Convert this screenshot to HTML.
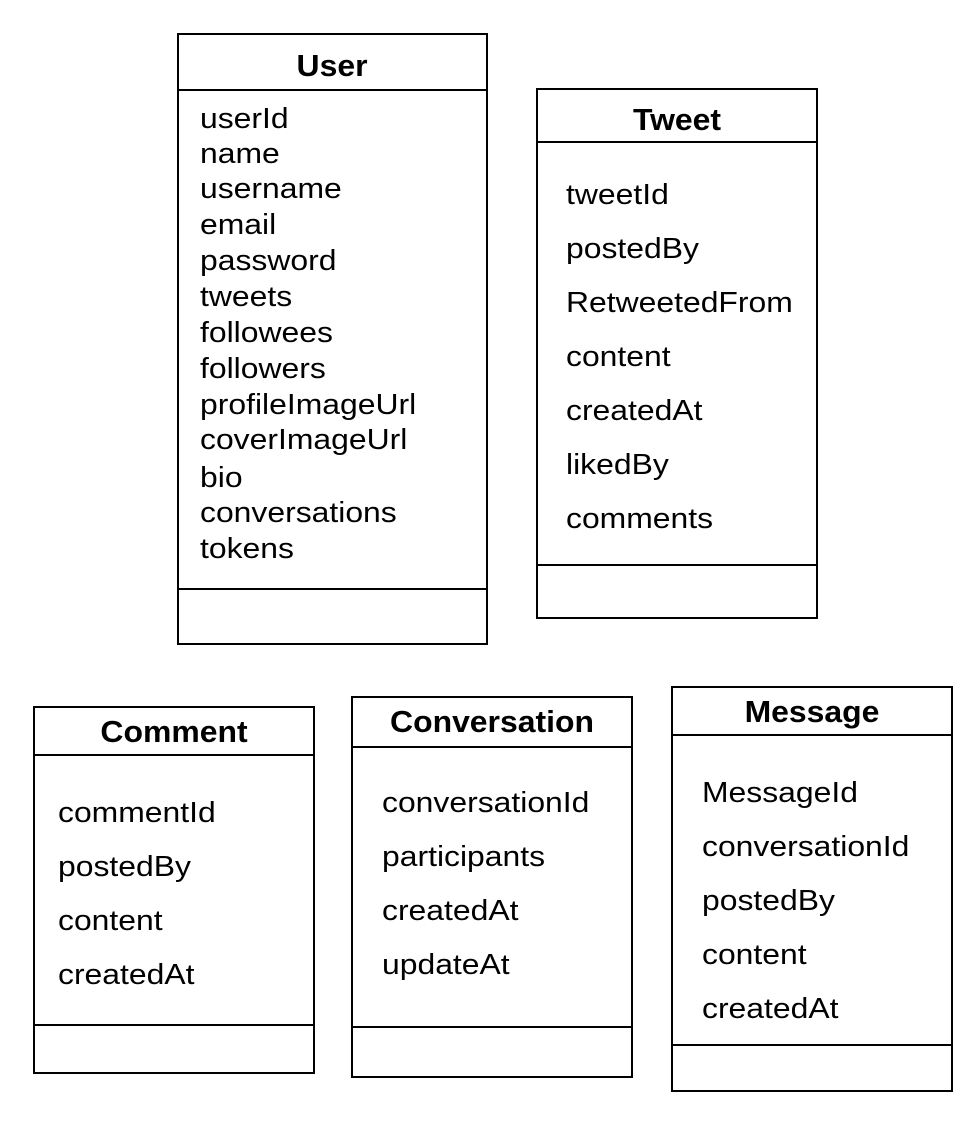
<!DOCTYPE html>
<html><head><meta charset="utf-8"><style>body{margin:0;background:#fff}svg{display:block}</style></head><body>
<svg width="962" height="1126" xmlns="http://www.w3.org/2000/svg" style="font-family:'Liberation Sans',Arial,sans-serif" font-size="29" fill="#000">
<g fill="none" stroke="#000" stroke-width="2">
<rect x="178" y="34" width="309" height="610"/><line x1="178" y1="90" x2="487" y2="90"/><line x1="178" y1="589" x2="487" y2="589"/>
<rect x="537" y="89" width="280" height="529"/><line x1="537" y1="142" x2="817" y2="142"/><line x1="537" y1="565" x2="817" y2="565"/>
<rect x="34" y="707" width="280" height="366"/><line x1="34" y1="755" x2="314" y2="755"/><line x1="34" y1="1025" x2="314" y2="1025"/>
<rect x="352" y="697" width="280" height="380"/><line x1="352" y1="747" x2="632" y2="747"/><line x1="352" y1="1027" x2="632" y2="1027"/>
<rect x="672" y="687" width="280" height="404"/><line x1="672" y1="735" x2="952" y2="735"/><line x1="672" y1="1045" x2="952" y2="1045"/>
</g>
<g font-weight="bold" font-size="31" text-anchor="middle">
<text transform="translate(332,0) scale(1.03,1)" x="0" y="76">User</text>
<text transform="translate(677,0) scale(1.03,1)" x="0" y="130">Tweet</text>
<text transform="translate(174,0) scale(1.03,1)" x="0" y="742">Comment</text>
<text transform="translate(492,0) scale(1.03,1)" x="0" y="732">Conversation</text>
<text transform="translate(812,0) scale(1.03,1)" x="0" y="722">Message</text>
</g>
<g transform="translate(200,0) scale(1.1,1)">
<text x="0" y="128">userId</text><text x="0" y="163">name</text><text x="0" y="198">username</text><text x="0" y="234">email</text><text x="0" y="270">password</text><text x="0" y="306">tweets</text><text x="0" y="342">followees</text><text x="0" y="378">followers</text><text x="0" y="414">profileImageUrl</text><text x="0" y="449">coverImageUrl</text><text x="0" y="487">bio</text><text x="0" y="522">conversations</text><text x="0" y="558">tokens</text>
</g>
<g transform="translate(566,0) scale(1.1,1)">
<text x="0" y="204">tweetId</text><text x="0" y="258">postedBy</text><text x="0" y="312">RetweetedFrom</text><text x="0" y="366">content</text><text x="0" y="420">createdAt</text><text x="0" y="474">likedBy</text><text x="0" y="528">comments</text>
</g>
<g transform="translate(58,0) scale(1.1,1)">
<text x="0" y="822">commentId</text><text x="0" y="876">postedBy</text><text x="0" y="930">content</text><text x="0" y="984">createdAt</text>
</g>
<g transform="translate(382,0) scale(1.1,1)">
<text x="0" y="812">conversationId</text><text x="0" y="866">participants</text><text x="0" y="920">createdAt</text><text x="0" y="974">updateAt</text>
</g>
<g transform="translate(702,0) scale(1.1,1)">
<text x="0" y="802">MessageId</text><text x="0" y="856">conversationId</text><text x="0" y="910">postedBy</text><text x="0" y="964">content</text><text x="0" y="1018">createdAt</text>
</g>
</svg>
</body></html>
